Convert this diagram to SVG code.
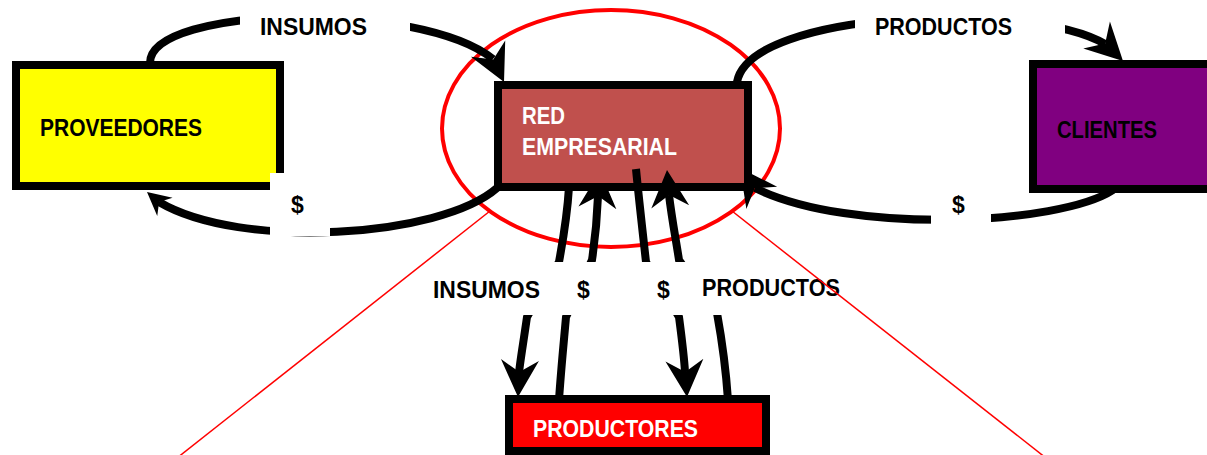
<svg xmlns="http://www.w3.org/2000/svg" xmlns:xlink="http://www.w3.org/1999/xlink" width="1207" height="455" viewBox="0 0 1207 455">
  <style>
    .box { stroke: #000; stroke-width: 8; }
    .t { font-family: "Liberation Sans", Arial, sans-serif; font-weight: bold; font-size: 23px; fill: #000; }
    .tw { fill: #fff; }
    .conn { fill: none; stroke: #000; stroke-width: 8; }
    .lbg { fill: #fff; }
    .thin { stroke: #ff0000; stroke-width: 1.5; fill: none; }
  </style>
  <defs>
    <path id="ah" d="M0,0 L-37,-19 L-25,0 L-37,19 Z" fill="#000"/>
    <clipPath id="outsideRed">
      <path clip-rule="evenodd" d="M0,0H1207V455H0Z M502,89H744V183H502Z"/>
    </clipPath>
  </defs>
  <rect width="1207" height="455" fill="#fff"/>

  <g id="red-ellipse">
    <ellipse cx="611" cy="128.5" rx="169" ry="118.5" fill="none" stroke="#ff0000" stroke-width="4"/>
  </g>

  <g id="proveedores">
    <rect class="box" x="16" y="65" width="264" height="121" fill="#ffff00"/>
    <text class="t" x="40" y="136" textLength="162" lengthAdjust="spacingAndGlyphs">PROVEEDORES</text>
  </g>
  <g id="red-empresarial">
    <rect class="box" x="498" y="85" width="250" height="102" fill="#c0504d"/>
    <text class="t tw" x="522" y="124" textLength="43" lengthAdjust="spacingAndGlyphs">RED</text>
    <text class="t tw" x="522" y="155" textLength="155" lengthAdjust="spacingAndGlyphs">EMPRESARIAL</text>
  </g>
  <g id="clientes">
    <rect class="box" x="1033" y="64" width="220" height="125" fill="#800080"/>
    <text class="t" x="1057" y="138" textLength="100" lengthAdjust="spacingAndGlyphs">CLIENTES</text>
  </g>
  <g id="productores">
    <rect class="box" x="509" y="399" width="257" height="52" fill="#ff0000"/>
    <text class="t tw" x="533" y="437" textLength="165" lengthAdjust="spacingAndGlyphs">PRODUCTORES</text>
  </g>

  <g id="connectors">
    <path class="conn" d="M150,63 C150,5 420,0 493,59"/>
    <use href="#ah" transform="translate(504,82) rotate(64.5)"/>
    <path class="conn" d="M497,188 C440,238 240,250 159,202"/>
    <use href="#ah" transform="translate(147,192) rotate(219.8) scale(0.63)"/>
    <path class="conn" d="M737,82 C750,10 1030,0 1105,44"/>
    <use href="#ah" transform="translate(1123,61) rotate(44.5)"/>
    <path class="conn" d="M1113,190 C1060,225 850,235 755,188"/>
    <path class="conn" d="M569,187 C567,220 562,245 559,262 L527,317 C523,345 520,362 519,373"/>
    <use href="#ah" transform="translate(518,397) rotate(93)"/>
    <path class="conn" d="M559,400 C561,370 564,340 566,317 L592,260 C595,240 597,222 598,196"/>
    <path class="conn" d="M636,169 C639,200 643,235 646,262 L679,317 C682,340 684,355 685,372"/>
    <use href="#ah" transform="translate(687,397) rotate(86)"/>
    <path class="conn" d="M728,400 C726,370 721,335 717,313 L679,260 C676,240 672,220 669,195"/>
    <use href="#ah" transform="translate(667,170) rotate(-95)"/>
    <g clip-path="url(#outsideRed)">
      <use href="#ah" transform="translate(740,168) rotate(234)"/>
      <use href="#ah" transform="translate(600,171) rotate(-86)"/>
    </g>
  </g>

  <g id="labels">
    <rect class="lbg" x="240" y="0" width="170" height="45"/>
    <rect class="lbg" x="855" y="0" width="210" height="45"/>
    <rect class="lbg" x="270" y="173" width="60" height="63"/>
    <rect class="lbg" x="931" y="195" width="60" height="45"/>
    <rect class="lbg" x="430" y="262" width="297" height="53"/>
    <text class="t" x="260" y="35" textLength="107" lengthAdjust="spacingAndGlyphs">INSUMOS</text>
    <text class="t" x="875" y="35" textLength="137" lengthAdjust="spacingAndGlyphs">PRODUCTOS</text>
    <text class="t" x="291" y="213">$</text>
    <text class="t" x="952" y="213">$</text>
    <text class="t" x="433" y="298" textLength="107" lengthAdjust="spacingAndGlyphs">INSUMOS</text>
    <text class="t" x="577" y="298">$</text>
    <text class="t" x="657" y="298">$</text>
    <text class="t" x="702" y="296" textLength="138" lengthAdjust="spacingAndGlyphs">PRODUCTOS</text>
  </g>

  <g id="red-lines">
    <line class="thin" x1="490" y1="211" x2="177" y2="458"/>
    <line class="thin" x1="732" y1="211" x2="1046" y2="458"/>
  </g>
</svg>
